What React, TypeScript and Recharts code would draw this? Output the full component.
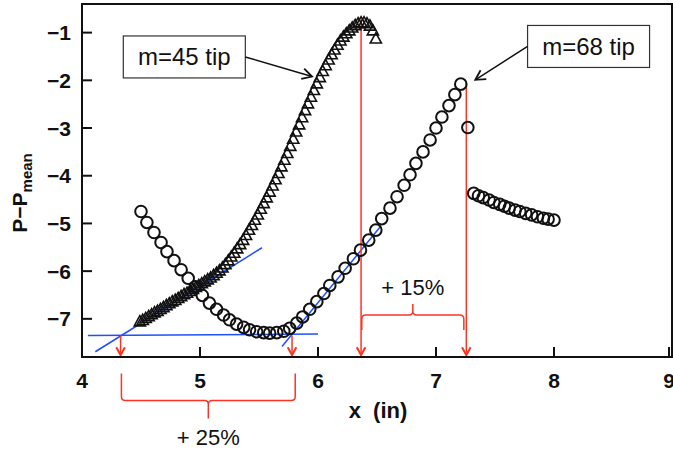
import React from 'react'
import {
  ScatterChart,
  Scatter,
  XAxis,
  YAxis,
  ReferenceLine,
  ReferenceArea,
} from 'recharts'

// pressure difference vs. spanwise position, [x (in), P - Pmean]
const m45Points: Array<[number, number]> = [
  [4.49, -7.06], [4.515, -7.03], [4.54, -6.99], [4.565, -6.95], [4.59, -6.91],
  [4.615, -6.87], [4.64, -6.84], [4.665, -6.8], [4.69, -6.76], [4.715, -6.72],
  [4.74, -6.68], [4.765, -6.64], [4.79, -6.61], [4.815, -6.57], [4.84, -6.53],
  [4.865, -6.49], [4.89, -6.46], [4.915, -6.42], [4.94, -6.38], [4.965, -6.34],
  [4.99, -6.3], [5.015, -6.26], [5.04, -6.22], [5.065, -6.18], [5.09, -6.14],
  [5.115, -6.09], [5.14, -6.04], [5.165, -5.99], [5.19, -5.93], [5.215, -5.86],
  [5.24, -5.78], [5.265, -5.7], [5.29, -5.62], [5.315, -5.53], [5.34, -5.44],
  [5.365, -5.35], [5.39, -5.25], [5.415, -5.14], [5.44, -5.04], [5.465, -4.93],
  [5.49, -4.82], [5.515, -4.7], [5.54, -4.58], [5.565, -4.46], [5.59, -4.34],
  [5.615, -4.21], [5.64, -4.08], [5.665, -3.95], [5.69, -3.81], [5.715, -3.67],
  [5.74, -3.53], [5.765, -3.38], [5.79, -3.23], [5.815, -3.08], [5.84, -2.93],
  [5.865, -2.78], [5.89, -2.63], [5.915, -2.49], [5.94, -2.35], [5.965, -2.21],
  [5.99, -2.07], [6.015, -1.94], [6.04, -1.81], [6.065, -1.69], [6.09, -1.57],
  [6.115, -1.46], [6.14, -1.36], [6.165, -1.26], [6.19, -1.17], [6.215, -1.09],
  [6.24, -1.02], [6.265, -0.96], [6.29, -0.9], [6.315, -0.85], [6.34, -0.81],
  [6.365, -0.79], [6.39, -0.79], [6.415, -0.81], [6.44, -0.86], [6.465, -0.96],
  [6.49, -1.13],
]

const m68Points: Array<[number, number]> = [
  [4.5, -4.75], [4.55, -4.98], [4.61, -5.19], [4.67, -5.4], [4.72, -5.59],
  [4.78, -5.78], [4.84, -5.97], [4.9, -6.15], [4.96, -6.33], [5.02, -6.51],
  [5.08, -6.67], [5.14, -6.8], [5.2, -6.92], [5.25, -7.02], [5.31, -7.11],
  [5.37, -7.18], [5.42, -7.23], [5.48, -7.27], [5.54, -7.29], [5.59, -7.3],
  [5.65, -7.29], [5.71, -7.26], [5.76, -7.2], [5.82, -7.09], [5.87, -6.96],
  [5.93, -6.8], [5.99, -6.64], [6.05, -6.47], [6.1, -6.3], [6.17, -6.12],
  [6.23, -5.94], [6.3, -5.74], [6.36, -5.56], [6.43, -5.35], [6.49, -5.14],
  [6.54, -4.9], [6.61, -4.68], [6.67, -4.44], [6.73, -4.2], [6.78, -3.98],
  [6.83, -3.74], [6.89, -3.5], [6.95, -3.25], [7.0, -3.0], [7.05, -2.77],
  [7.11, -2.53], [7.16, -2.3], [7.21, -2.08], [7.27, -2.99],
  [7.32, -4.37], [7.36, -4.42], [7.4, -4.46], [7.45, -4.51], [7.49, -4.56],
  [7.54, -4.6], [7.58, -4.64], [7.62, -4.68], [7.67, -4.72], [7.71, -4.75],
  [7.76, -4.79], [7.81, -4.82], [7.86, -4.86], [7.91, -4.89], [7.95, -4.91],
  [8.0, -4.93],
]

const xTicks = [4, 5, 6, 7, 8, 9]
const yTicks = [-7, -6, -5, -4, -3, -2, -1]
const xDomain: [number, number] = [4, 9]
const yDomain: [number, number] = [-7.8, -0.4]

// blue construction lines: slope at the m=45 foot, baseline, slope at the m=68 foot
const tangentLines: Array<[[number, number], [number, number]]> = [
  [[4.113, -7.69], [5.525, -5.51]],
  [[4.05, -7.35], [6.0, -7.32]],
  [[5.695, -7.58], [6.528, -5.07]],
]

// red drop arrows [x, top y]
const dropArrows: Array<[number, number]> = [
  [4.327, -7.35],
  [5.78, -7.35],
  [6.365, -0.73],
  [7.257, -2.03],
]
const arrowFloor = -7.76

// braces: [x from, x to, y, label, ends down?]
const braces: Array<[number, number, number, string, boolean]> = [
  [6.371, 7.236, -6.918, '+ 15%', true],
  [4.334, 5.807, -8.711, '+ 25%', false],
]

// callouts: label, arrow start, arrow tip, box side of the start
const callouts: Array<{ text: string; from: [number, number]; to: [number, number]; box: 'left' | 'right' }> = [
  { text: 'm=45 tip', from: [5.384, -1.51], to: [5.949, -1.92], box: 'left' },
  { text: 'm=68 tip', from: [7.776, -1.29], to: [7.333, -1.99], box: 'right' },
]

const m45Data = m45Points.map(([x, y]) => ({ x, y }))
const m68Data = m68Points.map(([x, y]) => ({ x, y }))

const WIDTH = 673
const HEIGHT = 451
const PLOT_LEFT = 82
const PLOT_BOTTOM = 357
const INK = '#111'
const RED = '#ff3322'
const BLUE = '#1f4fff'
const FONT = '"Liberation Sans", Arial, Helvetica, sans-serif'

const fmtNum = (v: number) => (v < 0 ? `\u2212${Math.abs(v)}` : `${v}`)

const XTick = ({ x, payload }: any) => (
  <g>
    <line x1={x} x2={x} y1={PLOT_BOTTOM} y2={PLOT_BOTTOM - 10} stroke={INK} strokeWidth={2} />
    <text x={x} y={PLOT_BOTTOM + 31} textAnchor="middle" fontSize={21} fontWeight="bold" fill={INK} fontFamily={FONT}>
      {fmtNum(payload.value)}
    </text>
  </g>
)

const YTick = ({ y, payload }: any) => (
  <g>
    <line x1={PLOT_LEFT} x2={PLOT_LEFT + 10} y1={y} y2={y} stroke={INK} strokeWidth={2} />
    <text x={PLOT_LEFT - 11} y={y + 7.5} textAnchor="end" fontSize={21} fontWeight="bold" fill={INK} fontFamily={FONT}>
      {fmtNum(payload.value)}
    </text>
  </g>
)

const XTitle = () => (
  <text x={378} y={418} textAnchor="middle" fontSize={22} fontWeight="bold" fill={INK} fontFamily={FONT}>
    {'x\u00a0\u00a0(in)'}
  </text>
)

const YTitle = () => (
  <text
    x={27}
    y={193}
    transform="rotate(-90, 27, 193)"
    textAnchor="middle"
    fontWeight="bold"
    fill={INK}
    fontFamily={FONT}
  >
    <tspan fontSize={21}>P{'\u2212'}P</tspan>
    <tspan fontSize={15} dy={5}>mean</tspan>
  </text>
)

const Triangle = ({ cx, cy }: any) => (
  <path
    d={`M${cx},${cy - 6} L${cx + 5.6},${cy + 4.2} L${cx - 5.6},${cy + 4.2} Z`}
    fill="none"
    stroke={INK}
    strokeWidth={1.6}
  />
)

const Ring = ({ cx, cy }: any) => (
  <circle cx={cx} cy={cy} r={5.8} fill="none" stroke={INK} strokeWidth={2} />
)

const chevron = (x1: number, y1: number, x2: number, y2: number, len: number, color: string, width: number) => {
  const a = Math.atan2(y2 - y1, x2 - x1)
  const spread = 0.5
  const p1 = [x2 - len * Math.cos(a - spread), y2 - len * Math.sin(a - spread)]
  const p2 = [x2 - len * Math.cos(a + spread), y2 - len * Math.sin(a + spread)]
  return (
    <path
      d={`M${p1[0]},${p1[1]} L${x2},${y2} L${p2[0]},${p2[1]}`}
      fill="none"
      stroke={color}
      strokeWidth={width}
    />
  )
}

const DropArrow = (p: any) => (
  <g>
    <line x1={p.x1} y1={p.y1} x2={p.x2} y2={p.y2} stroke={RED} strokeWidth={1.5} />
    {chevron(p.x1, p.y1, p.x2, p.y2, 9, RED, 2)}
  </g>
)

const braceShape = (label: string, endsDown: boolean) => (p: any) => {
  const { x1, x2, y1: y } = p
  const d = endsDown ? 1 : -1
  const end = endsDown ? 15 : 27
  const cusp = endsDown ? 11 : 18
  const r = 4
  const xm = (x1 + x2) / 2
  const path = [
    `M${x1},${y + d * end}`,
    `L${x1},${y + d * r}`,
    `Q${x1},${y} ${x1 + r},${y}`,
    `L${xm - r},${y}`,
    `Q${xm},${y} ${xm},${y - d * r}`,
    `L${xm},${y - d * cusp}`,
    `M${xm},${y - d * r}`,
    `Q${xm},${y} ${xm + r},${y}`,
    `L${x2 - r},${y}`,
    `Q${x2},${y} ${x2},${y + d * r}`,
    `L${x2},${y + d * end}`,
  ].join(' ')
  const ty = endsDown ? y - cusp - 9 : y + cusp + 27
  return (
    <g>
      <path d={path} fill="none" stroke={RED} strokeWidth={1.5} />
      <text x={xm} y={ty} textAnchor="middle" fontSize={22} fill={INK} fontFamily={FONT}>
        {label}
      </text>
    </g>
  )
}

const calloutShape = (text: string, box: 'left' | 'right') => (p: any) => {
  const { x1, y1, x2, y2 } = p
  const w = 122
  const h = 42
  const bx = box === 'left' ? x1 - w : x1
  const by = y1 - h / 2
  return (
    <g>
      <rect x={bx} y={by} width={w} height={h} fill="#fff" stroke="#333" strokeWidth={1.2} />
      <text x={bx + w / 2} y={by + h / 2 + 8.5} textAnchor="middle" fontSize={24} fill={INK} fontFamily={FONT}>
        {text}
      </text>
      <line x1={x1} y1={y1} x2={x2} y2={y2} stroke={INK} strokeWidth={1.5} />
      {chevron(x1, y1, x2, y2, 11, INK, 1.8)}
    </g>
  )
}

export default function App() {
  return (
    <div style={{ position: 'absolute', left: 0, top: 0, width: WIDTH, height: HEIGHT, background: '#fff' }}>
      <ScatterChart width={WIDTH} height={HEIGHT} margin={{ top: 4, right: 1, bottom: 0, left: 0 }}>
        <XAxis
          type="number"
          dataKey="x"
          domain={xDomain}
          ticks={xTicks}
          allowDataOverflow
          height={HEIGHT - PLOT_BOTTOM}
          axisLine={{ stroke: INK, strokeWidth: 2 }}
          tickLine={false}
          tick={<XTick />}
          label={<XTitle />}
        />
        <YAxis
          type="number"
          dataKey="y"
          domain={yDomain}
          ticks={yTicks}
          allowDataOverflow
          width={PLOT_LEFT}
          axisLine={{ stroke: INK, strokeWidth: 2 }}
          tickLine={false}
          tick={<YTick />}
          label={<YTitle />}
        />
        <ReferenceArea
          x1={xDomain[0]}
          x2={xDomain[1]}
          y1={yDomain[0]}
          y2={yDomain[1]}
          fill="none"
          fillOpacity={0}
          stroke={INK}
          strokeWidth={2}
          ifOverflow="visible"
        />
        {tangentLines.map((seg, i) => (
          <ReferenceLine
            key={`tan-${i}`}
            segment={[{ x: seg[0][0], y: seg[0][1] }, { x: seg[1][0], y: seg[1][1] }]}
            stroke={BLUE}
            strokeWidth={1.5}
            ifOverflow="visible"
          />
        ))}
        <Scatter data={m45Data} shape={<Triangle />} isAnimationActive={false} />
        <Scatter data={m68Data} shape={<Ring />} isAnimationActive={false} />
        {dropArrows.map(([x, top], i) => (
          <ReferenceLine
            key={`drop-${i}`}
            segment={[{ x, y: top }, { x, y: arrowFloor }]}
            shape={DropArrow}
            ifOverflow="visible"
          />
        ))}
        {braces.map(([xa, xb, y, label, down], i) => (
          <ReferenceLine
            key={`brace-${i}`}
            segment={[{ x: xa, y }, { x: xb, y }]}
            shape={braceShape(label, down)}
            ifOverflow="visible"
          />
        ))}
        {callouts.map((c, i) => (
          <ReferenceLine
            key={`callout-${i}`}
            segment={[{ x: c.from[0], y: c.from[1] }, { x: c.to[0], y: c.to[1] }]}
            shape={calloutShape(c.text, c.box)}
            ifOverflow="visible"
          />
        ))}
      </ScatterChart>
    </div>
  )
}
